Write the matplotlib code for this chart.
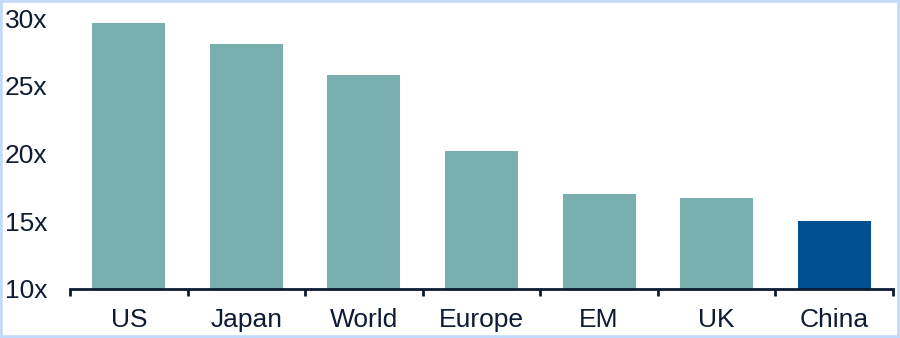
import matplotlib.pyplot as plt
from matplotlib.patches import Rectangle

# data
categories = ['US', 'Japan', 'World', 'Europe', 'EM', 'UK', 'China']
pe_values = [29.6, 28.1, 25.8, 20.2, 17.0, 16.7, 15.0]
bar_colors = ['#7aafb0'] * 6 + ['#00508f']
y_ticks = [10, 15, 20, 25, 30]
y_labels = ['10x', '15x', '20x', '25x', '30x']

text_color = '#0d1b33'
plt.rcParams['font.family'] = ['Liberation Sans', 'DejaVu Sans']

fig = plt.figure(figsize=(9, 3.38), dpi=100)
ax = fig.add_axes([70 / 900, 1 - 289 / 338, 823 / 900, (289 - 18) / 338])

x = range(len(categories))
ax.bar(x, [v - 10 for v in pe_values], bottom=10, width=0.62, color=bar_colors)

ax.set_xlim(-0.5, len(categories) - 0.5)
ax.set_ylim(10, 30)

# axes
for side in ['top', 'right', 'left']:
    ax.spines[side].set_visible(False)
ax.spines['bottom'].set_color(text_color)
ax.spines['bottom'].set_linewidth(2)

ax.set_xticks(list(x))
ax.set_xticklabels(categories)
ax.set_xticks([i - 0.5 for i in range(len(categories) + 1)], minor=True)
ax.tick_params(axis='x', which='major', length=0, pad=14, labelsize=19, labelcolor=text_color)
ax.tick_params(axis='x', which='minor', length=5, width=2, color=text_color, direction='out')

ax.set_yticks(y_ticks)
ax.set_yticklabels(y_labels)
ax.tick_params(axis='y', length=0, pad=0, labelsize=19, labelcolor=text_color)
for lbl in ax.get_yticklabels():
    lbl.set_horizontalalignment('left')
    lbl.set_x(-65 / 823)

# light blue frame around the figure
fig.patches.append(Rectangle((0, 0), 1, 1, transform=fig.transFigure, fill=False,
                             edgecolor='#c2dbfa', linewidth=4, zorder=10))

fig.savefig('out.png', dpi=100)
